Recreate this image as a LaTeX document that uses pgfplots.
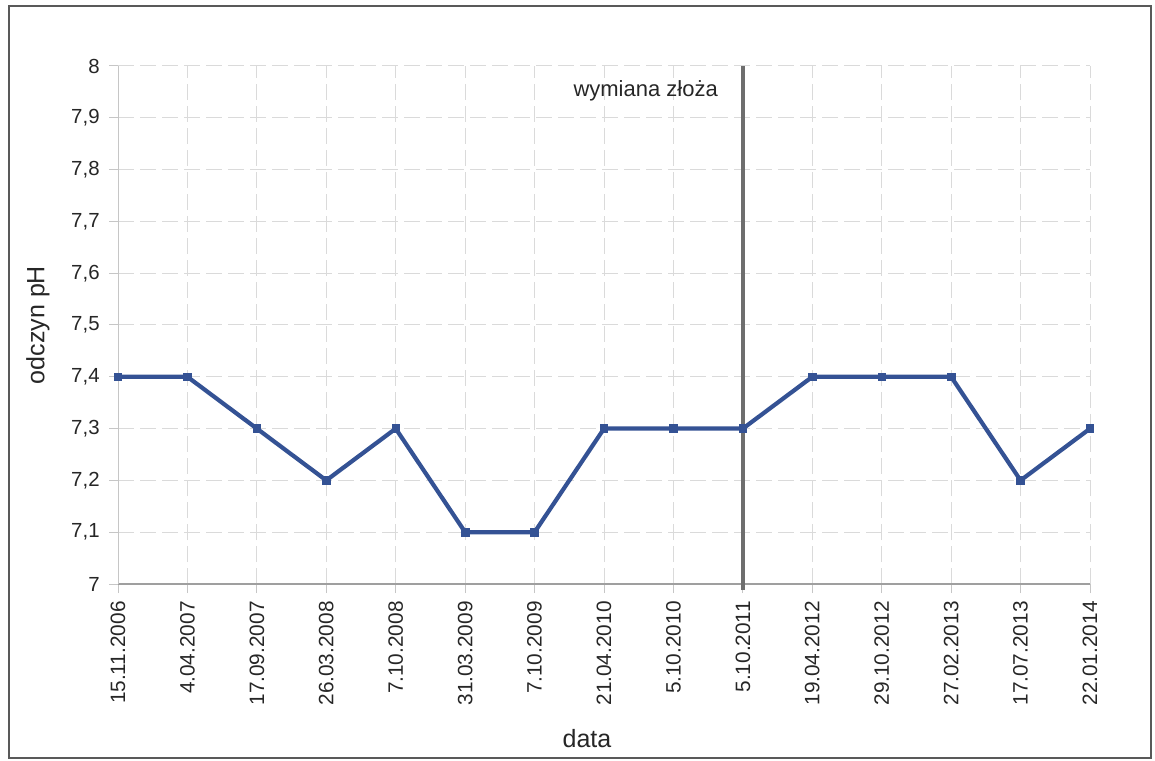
\documentclass[border=0pt]{standalone}
\usepackage{pgfplots}
\pgfplotsset{compat=1.18}
\usepackage{fontspec}
\setmainfont{Liberation Sans}
\definecolor{phline}{RGB}{52,82,148}
\definecolor{gridgray}{RGB}{218,218,218}
\definecolor{markergray}{RGB}{110,110,110}

\begin{document}
\begin{tikzpicture}
  % page and frame
  \useasboundingbox (0pt,0pt) rectangle (577.5pt,380pt);
  \draw[line width=0.9pt, black!65] (4.5pt,1pt) rectangle (575.5pt,377pt);

  \begin{axis}[
    at={(59pt,88pt)}, anchor=south west,
    width=486pt, height=259pt, scale only axis,
    xmin=0, xmax=14, ymin=7, ymax=8,
    clip=false,
    axis x line*=bottom, axis y line*=left,
    x axis line style={gray!75, line width=0.6pt, -},
    y axis line style={gray!45, line width=0.5pt, -},
    xtick={0,...,14},
    xticklabels={15.11.2006,4.04.2007,17.09.2007,26.03.2008,7.10.2008,31.03.2009,7.10.2009,21.04.2010,5.10.2010,5.10.2011,19.04.2012,29.10.2012,27.02.2013,17.07.2013,22.01.2014},
    ytick={7,7.1,...,8.01},
    xticklabel style={rotate=90, anchor=east, font=\fontsize{10.4}{12}\selectfont, text=black!85, inner sep=1pt},
    yticklabel style={font=\fontsize{10.2}{12}\selectfont, text=black!85, inner sep=1pt},
    /pgf/number format/.cd, use comma, fixed, precision=1, assume math mode=true,
    /pgfplots/.cd,
    tick align=outside,
    major tick length=4.5pt,
    tick style={gray!45, line width=0.5pt},
    xticklabel shift=3pt,
    yticklabel shift=3.5pt,
    grid=major,
    major grid style={gridgray, line width=0.5pt, dash pattern=on 8pt off 3pt},
  ]
    % bed replacement marker
    \addplot[markergray, line width=1.8pt, forget plot] coordinates {(9,6.988) (9,8)};
    \node[anchor=east, font=\fontsize{11}{13}\selectfont, text=black!85] at (axis cs:9,7.952) [xshift=-9pt] {wymiana złoża};

    % pH readings
    \addplot[phline, line width=2.1pt, mark=square*, mark size=1.9pt,
             mark options={solid, fill=phline, draw=phline, line width=0.4pt}]
      coordinates {
        (0,7.4) (1,7.4) (2,7.3) (3,7.2) (4,7.3) (5,7.1) (6,7.1) (7,7.3)
        (8,7.3) (9,7.3) (10,7.4) (11,7.4) (12,7.4) (13,7.2) (14,7.3)
      };
  \end{axis}

  % axis titles
  \node[rotate=90, font=\fontsize{12.5}{14}\selectfont, text=black!85] at (19pt,217.5pt) {odczyn pH};
  \node[font=\fontsize{12.5}{14}\selectfont, text=black!85] at (293.5pt,10.5pt) {data};
\end{tikzpicture}
\end{document}
